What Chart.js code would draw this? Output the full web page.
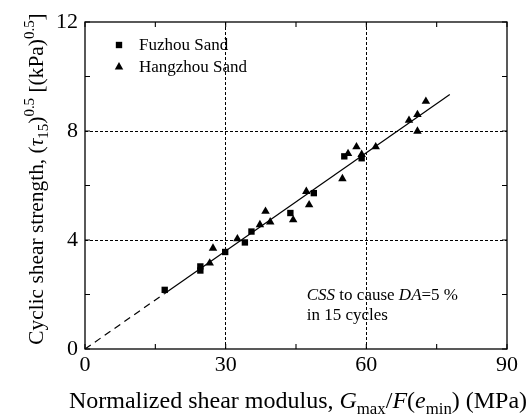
<!DOCTYPE html>
<html>
<head>
<meta charset="utf-8">
<script src="https://cdn.jsdelivr.net/npm/chart.js@4.4.0/dist/chart.umd.min.js"></script>
<style>
  html, body { margin: 0; padding: 0; background: #fff; }
</style>
</head>
<body>
<canvas id="chart" width="529" height="414"></canvas>
<script>
// ===== Data =====
const fuzhouX = [17.0, 24.6, 24.6, 29.9, 34.1, 35.5, 43.8, 48.8, 55.3, 59.0];
const fuzhouY = [2.17, 2.88, 3.03, 3.56, 3.91, 4.31, 4.99, 5.72, 7.07, 7.00];

const hangzhouX = [26.6, 27.3, 32.5, 37.3, 38.5, 39.5, 44.4, 47.2, 47.8, 54.9, 56.1, 57.9, 59.0, 62.0, 69.1, 70.9, 70.9, 72.7];
const hangzhouY = [3.15, 3.70, 4.04, 4.56, 5.05, 4.66, 4.74, 5.78, 5.29, 6.25, 7.17, 7.42, 7.14, 7.42, 8.39, 8.60, 7.99, 9.09];

// fitted line: dashed part near origin, solid through the data
const fitDashX = [0, 17];
const fitDashY = [0, 2.04];
const fitSolidX = [17, 77.8];
const fitSolidY = [2.04, 9.34];

const xTicks = [0, 30, 60, 90];
const yTicks = [0, 4, 8, 12];
const xMinor = [15, 45, 75];
const yMinor = [2, 6, 10];
const xGrid = [30, 60];
const yGrid = [4, 8];

const legendNames = ['Fuzhou Sand', 'Hangzhou Sand'];

// ===== Helpers =====
const SERIF = '"Liberation Serif", "Times New Roman", Times, serif';
const pts = (xs, ys) => xs.map((x, i) => ({ x, y: ys[i] }));

// draw a run of text pieces with italic / sub / sup
function drawRich(ctx, runs, x, y, size, align) {
  const parts = runs.map(r => {
    const s = (r.sub || r.sup) ? size * 0.7 : size;
    const font = (r.i ? 'italic ' : '') + s + 'px ' + SERIF;
    ctx.font = font;
    const dy = r.sub ? size * 0.24 : (r.sup ? -size * 0.4 : 0);
    return { t: r.t, font, w: ctx.measureText(r.t).width, dy };
  });
  const total = parts.reduce((a, p) => a + p.w, 0);
  let cx = align === 'center' ? x - total / 2 : x;
  ctx.textAlign = 'left';
  ctx.textBaseline = 'alphabetic';
  parts.forEach(p => {
    ctx.font = p.font;
    ctx.fillText(p.t, cx, y + p.dy);
    cx += p.w;
  });
}

// ===== Frame, inward ticks, legend, notes, axis titles =====
const decor = {
  id: 'decor',
  afterDraw(chart) {
    const { ctx, chartArea: a, scales: { x, y } } = chart;
    ctx.save();
    ctx.strokeStyle = '#000';
    ctx.fillStyle = '#000';
    ctx.lineWidth = 1.3;
    ctx.setLineDash([]);
    ctx.strokeRect(a.left, a.top, a.right - a.left, a.bottom - a.top);

    const TL = 5;
    ctx.lineWidth = 1.1;
    ctx.beginPath();
    [...xTicks, ...xMinor].forEach(v => {
      const px = x.getPixelForValue(v);
      ctx.moveTo(px, a.bottom); ctx.lineTo(px, a.bottom - TL);
      ctx.moveTo(px, a.top); ctx.lineTo(px, a.top + TL);
    });
    [...yTicks, ...yMinor].forEach(v => {
      const py = y.getPixelForValue(v);
      ctx.moveTo(a.left, py); ctx.lineTo(a.left + TL, py);
      ctx.moveTo(a.right, py); ctx.lineTo(a.right - TL, py);
    });
    ctx.stroke();

    // legend
    const styles = ['rect', 'triangle'];
    const radii = [4.5, 4.9];
    legendNames.forEach((name, i) => {
      const ly = a.top + 23 + i * 22;
      Chart.helpers.drawPoint(ctx, { pointStyle: styles[i], radius: radii[i], borderWidth: 0, rotation: 0 }, a.left + 34, ly);
      ctx.font = '17px ' + SERIF;
      ctx.textAlign = 'left';
      ctx.textBaseline = 'middle';
      ctx.fillText(name, a.left + 54, ly + 1);
    });

    // note
    const nx = x.getPixelForValue(47.3);
    drawRich(ctx, [
      { t: 'CSS', i: true }, { t: ' to cause ' }, { t: 'DA', i: true }, { t: '=5 %' }
    ], nx, y.getPixelForValue(1.8), 17, 'left');
    drawRich(ctx, [{ t: 'in 15 cycles' }], nx, y.getPixelForValue(1.07), 17, 'left');

    // x title
    drawRich(ctx, [
      { t: 'Normalized shear modulus, ' }, { t: 'G', i: true }, { t: 'max', sub: true },
      { t: '/' }, { t: 'F', i: true }, { t: '(' }, { t: 'e', i: true }, { t: 'min', sub: true },
      { t: ') (MPa)' }
    ], 298, 408, 24, 'center');

    // y title
    ctx.translate(43, 179);
    ctx.rotate(-Math.PI / 2);
    drawRich(ctx, [
      { t: 'Cyclic shear strength, (' }, { t: 'τ', i: true }, { t: '15', sub: true },
      { t: ')' }, { t: '0.5', sup: true }, { t: ' [(kPa)' }, { t: '0.5', sup: true }, { t: ']' }
    ], 0, 0, 21.4, 'center');
    ctx.restore();
  }
};

// ===== Chart =====
const gridColor = list => c => (c.tick && list.includes(c.tick.value)) ? '#000' : 'rgba(0,0,0,0)';

new Chart(document.getElementById('chart'), {
  type: 'scatter',
  data: {
    datasets: [
      { label: legendNames[0], data: pts(fuzhouX, fuzhouY), pointStyle: 'rect', pointRadius: 4.5, backgroundColor: '#000', borderWidth: 0 },
      { label: legendNames[1], data: pts(hangzhouX, hangzhouY), pointStyle: 'triangle', pointRadius: 4.9, backgroundColor: '#000', borderWidth: 0 },
      { label: 'fit', data: pts(fitSolidX, fitSolidY), showLine: true, pointRadius: 0, borderColor: '#000', borderWidth: 1.2 },
      { label: 'fit-ext', data: pts(fitDashX, fitDashY), showLine: true, pointRadius: 0, borderColor: '#000', borderWidth: 1.2, borderDash: [7, 5] }
    ]
  },
  options: {
    responsive: false,
    animation: false,
    devicePixelRatio: 1,
    layout: { padding: { top: 22, right: 22, left: 0, bottom: 0 } },
    plugins: { legend: { display: false }, tooltip: { enabled: false } },
    scales: {
      x: {
        type: 'linear', min: 0, max: 90,
        afterBuildTicks: s => { s.ticks = xTicks.map(v => ({ value: v })); },
        afterFit: s => { s.height = 65; },
        ticks: { font: { family: SERIF, size: 22 }, color: '#000', padding: 3, maxRotation: 0 },
        grid: { color: gridColor(xGrid), lineWidth: 1, drawTicks: false },
        border: { display: false, dash: [3, 2] }
      },
      y: {
        type: 'linear', min: 0, max: 12,
        afterBuildTicks: s => { s.ticks = yTicks.map(v => ({ value: v })); },
        afterFit: s => { s.width = 85; },
        ticks: { font: { family: SERIF, size: 22 }, color: '#000', padding: 7 },
        grid: { color: gridColor(yGrid), lineWidth: 1, drawTicks: false },
        border: { display: false, dash: [3, 2] }
      }
    }
  },
  plugins: [decor]
});
</script>
</body>
</html>
